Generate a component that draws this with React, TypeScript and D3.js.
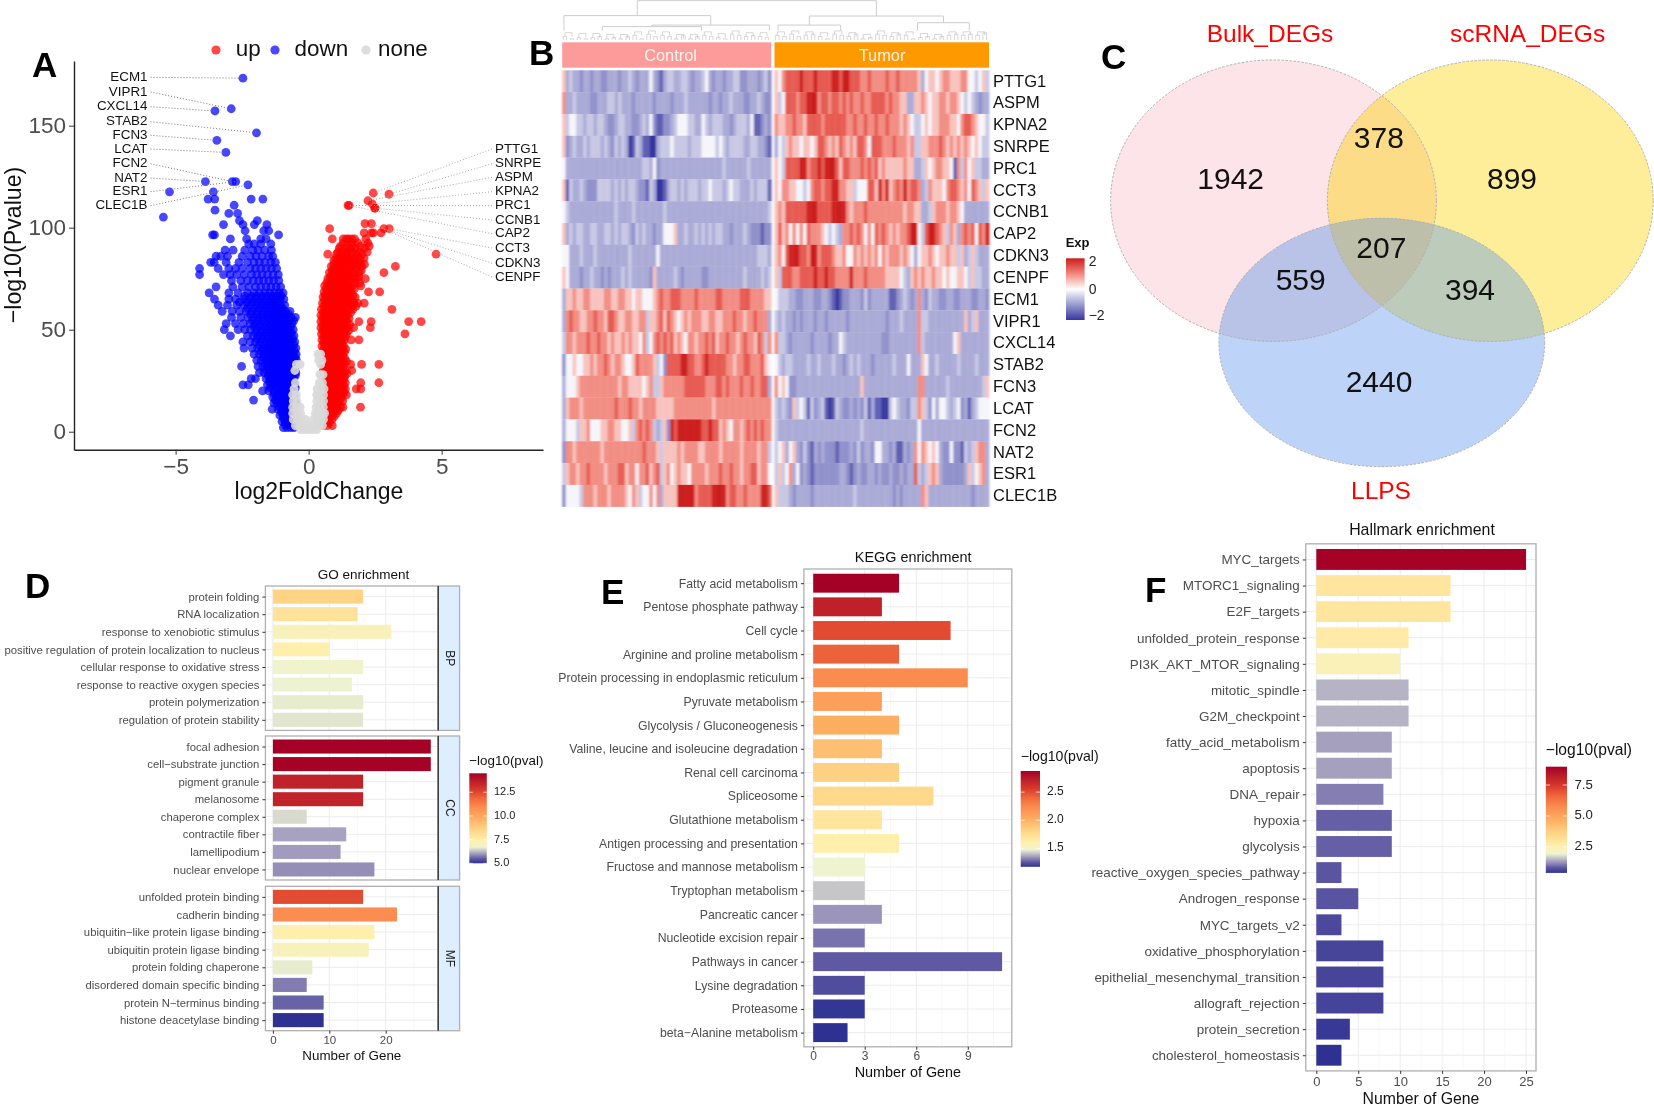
import { useEffect, useRef } from "react";
import * as d3 from "d3";

const FONT = "'Liberation Sans', Arial, sans-serif";

// ---- panel A: volcano, rows are [pvalue level, ...log2FC values]
const downRows = [
  [2, -0.95, -0.82, -0.68, -0.55],
  [3.5, -0.88, -0.74, -0.6],
  [5, -1.0, -0.88, -0.74, -0.6, -0.48],
  [6.5, -0.95, -0.8, -0.66, -0.53],
  [8, -1.08, -0.95, -0.8, -0.66, -0.52],
  [9.5, -1.02, -0.88, -0.74, -0.6],
  [11, -1.37, -1.15, -1.02, -0.86, -0.72, -0.58],
  [12.5, -1.1, -0.95, -0.8, -0.66, -0.53],
  [14, -1.3, -1.18, -1.05, -0.92, -0.78, -0.62, -0.5],
  [15.5, -2.07, -1.25, -1.12, -0.98, -0.84, -0.7, -0.56],
  [17, -1.35, -1.22, -1.1, -0.96, -0.82, -0.68, -0.54],
  [18.5, -1.3, -1.16, -1.03, -0.89, -0.75, -0.6],
  [20, -1.73, -1.5, -1.3, -1.14, -1.0, -0.86, -0.72, -0.58],
  [21.5, -1.45, -1.22, -1.07, -0.93, -0.79, -0.65, -0.5],
  [23, -2.47, -2.27, -1.55, -1.4, -1.26, -1.1, -0.96, -0.82, -0.66, -0.52],
  [24.5, -1.48, -1.33, -1.18, -1.03, -0.89, -0.74, -0.59],
  [26, -2.16, -2.0, -1.6, -1.44, -1.3, -1.16, -1.02, -0.88, -0.72, -0.56],
  [27.5, -1.52, -1.37, -1.23, -1.09, -0.95, -0.8, -0.64, -0.5],
  [29, -1.85, -1.68, -1.5, -1.36, -1.2, -1.06, -0.92, -0.76, -0.6, -0.48],
  [30.5, -1.6, -1.43, -1.28, -1.13, -0.99, -0.84, -0.68, -0.54],
  [32, -2.52, -1.9, -1.72, -1.55, -1.4, -1.26, -1.12, -0.96, -0.82, -0.66, -0.5],
  [33.5, -1.64, -1.47, -1.33, -1.19, -1.04, -0.89, -0.74, -0.58],
  [35, -1.95, -1.78, -1.6, -1.46, -1.3, -1.16, -1.0, -0.86, -0.72, -0.56, -0.46],
  [36.5, -1.7, -1.53, -1.38, -1.23, -1.08, -0.93, -0.79, -0.64, -0.5],
  [38, -2.05, -1.85, -1.68, -1.5, -1.36, -1.2, -1.06, -0.9, -0.76, -0.6, -0.47],
  [39.5, -1.78, -1.6, -1.43, -1.28, -1.13, -0.98, -0.83, -0.68, -0.54],
  [41, -2.43, -2.12, -1.92, -1.72, -1.56, -1.4, -1.25, -1.1, -0.95, -0.8, -0.64, -0.48],
  [42.5, -1.86, -1.66, -1.48, -1.33, -1.18, -1.03, -0.88, -0.72, -0.56],
  [44, -2.47, -2.2, -2.0, -1.8, -1.62, -1.46, -1.3, -1.15, -1.0, -0.85, -0.68, -0.52],
  [45.5, -1.94, -1.74, -1.56, -1.38, -1.22, -1.07, -0.92, -0.76, -0.6],
  [47, -2.94, -2.3, -2.08, -1.88, -1.7, -1.52, -1.36, -1.2, -1.04, -0.88, -0.72, -0.55],
  [48.5, -2.0, -1.8, -1.62, -1.45, -1.28, -1.12, -0.96, -0.8, -0.64],
  [50, -3.17, -2.65, -2.4, -2.18, -1.95, -1.76, -1.58, -1.4, -1.24, -1.08, -0.92, -0.76, -0.58],
  [51.5, -2.05, -1.86, -1.67, -1.49, -1.32, -1.16, -1.0, -0.84, -0.68],
  [53, -3.1, -2.75, -2.45, -2.2, -2.0, -1.82, -1.64, -1.46, -1.3, -1.12, -0.96, -0.8, -0.62],
  [54.5, -2.12, -1.92, -1.72, -1.55, -1.38, -1.22, -1.05, -0.88, -0.72, -0.56],
  [56, -2.9, -2.55, -2.28, -2.06, -1.86, -1.68, -1.5, -1.33, -1.16, -1.0, -0.84, -0.66, -0.5],
  [57.5, -2.18, -1.95, -1.76, -1.58, -1.42, -1.25, -1.08, -0.92, -0.76],
  [59, -3.25, -2.87, -2.6, -2.35, -2.12, -1.92, -1.72, -1.54, -1.36, -1.2, -1.03, -0.87, -0.7],
  [60.5, -2.3, -2.05, -1.84, -1.66, -1.48, -1.3, -1.14, -0.98],
  [62, -3.4, -3.05, -2.7, -2.42, -2.18, -1.96, -1.76, -1.58, -1.4, -1.22, -1.06, -0.9],
  [63.5, -2.6, -2.32, -2.1, -1.9, -1.7, -1.5, -1.34, -1.16],
  [65, -3.54, -3.0, -2.75, -2.45, -2.2, -2.0, -1.8, -1.6, -1.42, -1.25, -1.08, -0.93],
  [66.5, -2.4, -2.15, -1.95, -1.75, -1.56, -1.38, -1.2, -1.03],
  [68, -3.74, -3.0, -2.65, -2.3, -2.05, -1.85, -1.65, -1.46, -1.28, -1.1, -0.96],
  [71, -3.48, -2.85, -2.5, -2.25, -2.0, -1.8, -1.6, -1.42, -1.22, -1.05],
  [74, -2.9, -2.55, -2.3, -2.08, -1.88, -1.7, -1.5, -1.32, -1.12],
  [77, -4.1, -3.2, -2.95, -2.7, -2.42, -2.15, -1.95, -1.75, -1.55, -1.34, -1.14],
  [80, -4.1, -3.4, -3.0, -2.75, -2.5, -2.2, -2.0, -1.8, -1.6, -1.4, -1.2],
  [83, -3.68, -3.55, -3.1, -2.62, -2.3, -2.05, -1.85, -1.65, -1.42, -1.25],
  [86, -3.48, -3.3, -3.05, -2.5, -2.2, -1.98, -1.75, -1.5, -1.35],
  [89, -3.14, -2.84, -2.4, -2.1, -1.9, -1.65, -1.4],
  [92, -2.25, -2.05, -1.8, -1.42],
  [94.5, -2.94, -2.33, -1.8, -1.6],
  [96.5, -3.61, -3.54, -1.13],
  [98.5, -2.39, -1.69, -1.5],
  [101.5, -3.2, -2.47, -2.04, -1.57],
  [103.5, -2.6, -1.93],
  [105.2, -5.46],
  [107, -3.0, -2.67],
  [108.6, -3.52],
  [111, -2.8],
  [114, -3.53, -3.78, -2.16, -1.72],
  [117.6, -5.23, -3.58],
  [121, -2.28],
  [122.6, -3.88, -2.87, -2.74],
  [136.9, -3.11],
  [142.8, -3.45],
  [146.5, -1.96],
  [157.2, -3.52],
  [158.3, -2.91],
  [173.3, -2.47],
];

const upRows = [
  [3, 0.55, 0.7, 0.89],
  [4.5, 0.62, 0.78],
  [6, 0.58, 0.72, 0.88],
  [7.5, 0.64, 0.8, 0.96],
  [9, 0.6, 0.74, 0.9, 1.05],
  [10.5, 0.65, 0.8, 0.96, 1.12],
  [12, 0.58, 0.72, 0.88, 1.02, 1.2, 1.29, 1.95],
  [13.5, 0.65, 0.79, 0.94, 1.08],
  [15, 0.58, 0.72, 0.86, 1.0, 1.15, 1.28],
  [16.5, 0.65, 0.79, 0.93, 1.07, 1.22],
  [18, 0.58, 0.72, 0.85, 1.0, 1.14, 1.28, 1.42],
  [19.5, 0.65, 0.78, 0.92, 1.06, 1.2, 1.34],
  [21, 0.56, 0.7, 0.84, 0.98, 1.12, 1.26, 1.38, 1.79, 1.96],
  [22.5, 0.63, 0.77, 0.91, 1.05, 1.19, 1.32],
  [24, 0.56, 0.7, 0.84, 0.98, 1.12, 1.25, 1.38, 1.96, 2.64],
  [25.5, 0.62, 0.76, 0.9, 1.04, 1.18, 1.32],
  [27, 0.55, 0.68, 0.82, 0.96, 1.1, 1.24, 1.36],
  [28.5, 0.62, 0.75, 0.89, 1.03, 1.17, 1.3, 1.44],
  [30, 0.55, 0.68, 0.82, 0.96, 1.1, 1.24, 1.38, 1.62],
  [31.5, 0.61, 0.75, 0.89, 1.03, 1.17, 1.3],
  [33, 0.54, 0.68, 0.82, 0.96, 1.1, 1.22, 1.34, 1.58, 1.99, 2.64],
  [34.5, 0.6, 0.73, 0.87, 1.01, 1.15, 1.28, 1.42],
  [36, 0.54, 0.66, 0.8, 0.94, 1.08, 1.22, 1.36],
  [37.5, 0.6, 0.73, 0.87, 1.0, 1.14, 1.28],
  [39, 0.53, 0.66, 0.8, 0.94, 1.08, 1.22, 1.34],
  [40.5, 0.57, 0.7, 0.86, 0.99, 1.13, 1.27, 1.4],
  [42, 0.5, 0.64, 0.78, 0.92, 1.06, 1.2, 1.32],
  [43.5, 0.56, 0.7, 0.85, 0.98, 1.12, 1.26],
  [45, 0.5, 0.64, 0.78, 0.92, 1.06, 1.2, 1.34, 1.6, 1.89],
  [46.5, 0.55, 0.69, 0.84, 0.97, 1.11, 1.25, 1.38],
  [48, 0.48, 0.62, 0.76, 0.9, 1.04, 1.18, 1.3, 1.42, 3.62],
  [49.5, 0.53, 0.67, 0.81, 0.95, 1.09, 1.24, 1.37, 1.5],
  [51, 0.46, 0.6, 0.74, 0.88, 1.02, 1.16, 1.3, 1.45, 1.69, 2.32],
  [52.5, 0.53, 0.67, 0.81, 0.95, 1.09, 1.23, 1.37, 1.55],
  [54, 0.46, 0.6, 0.74, 0.88, 1.02, 1.16, 1.3, 1.44, 1.89, 2.35, 3.76, 4.23],
  [55.5, 0.53, 0.67, 0.81, 0.95, 1.09, 1.24, 1.38, 1.52],
  [57, 0.46, 0.6, 0.74, 0.88, 1.02, 1.18, 1.32, 1.46],
  [58.5, 0.55, 0.69, 0.83, 0.97, 1.11, 1.25, 1.4, 1.58],
  [60, 0.48, 0.62, 0.76, 0.9, 1.04, 1.18, 1.32, 1.48, 1.66, 3.13],
  [61.5, 0.57, 0.7, 0.85, 0.99, 1.14, 1.28, 1.44, 1.6, 1.78],
  [63, 0.52, 0.66, 0.8, 0.94, 1.08, 1.22, 1.38, 1.52, 1.7, 1.85, 2.09],
  [64.5, 0.6, 0.74, 0.88, 1.02, 1.16, 1.32, 1.46, 1.64],
  [66, 0.54, 0.68, 0.82, 0.96, 1.1, 1.24, 1.4, 1.55, 1.75],
  [67, 0.62, 0.76, 0.9, 1.04, 1.18, 1.32, 1.48, 1.66],
  [68.5, 0.58, 0.72, 0.86, 1.0, 1.14, 1.28, 1.44, 1.6, 2.25, 2.67],
  [70, 0.66, 0.8, 0.95, 1.1, 1.24, 1.38, 1.54, 1.72],
  [71.5, 0.6, 0.74, 0.9, 1.04, 1.18, 1.32, 1.48, 1.65, 1.96],
  [73, 0.68, 0.82, 0.96, 1.1, 1.26, 1.4, 1.56, 1.74, 1.92],
  [75, 0.72, 0.86, 1.0, 1.14, 1.28, 1.44, 1.6, 1.8, 2.13],
  [76, 0.82, 0.96, 1.1, 1.24, 1.38, 1.54, 1.72, 1.88],
  [78, 0.78, 0.92, 1.06, 1.2, 1.34, 1.5, 1.66, 1.9, 2.83],
  [79, 0.88, 1.0, 1.14, 1.28, 1.42, 1.58, 1.76, 1.98],
  [81, 0.85, 1.0, 1.14, 1.3, 1.46, 1.62, 1.8, 2.0, 3.26],
  [82, 0.94, 1.08, 1.22, 1.38, 1.54, 1.7, 1.9, 2.1],
  [84, 0.95, 1.1, 1.26, 1.42, 1.58, 1.76, 1.95],
  [85, 1.02, 1.18, 1.34, 1.5, 1.68, 1.86, 2.08],
  [87, 0.72, 1.05, 1.22, 1.4, 1.58, 1.8, 2.0, 4.79],
  [88, 1.1, 1.28, 1.46, 1.66, 1.9, 2.2],
  [90, 1.15, 1.35, 1.55, 1.75, 2.1],
  [91, 1.2, 1.45, 1.65, 1.95, 2.28],
  [92.5, 1.3, 1.6, 1.85, 2.23],
  [94.5, 0.89, 1.3, 1.42, 1.5, 1.62, 1.73, 2.15],
  [97.5, 2.09, 2.36, 2.43, 2.72],
  [99.5, 0.79, 2.83, 3.03],
  [102, 2.12, 2.36],
  [109.6, 2.5, 2.48],
  [110.9, 1.52, 1.48],
  [111.7, 2.39],
  [113.2, 2.23],
  [116.4, 3.02],
  [117, 2.43],
];

const noneRows = [
  [1, -0.3, -0.15, 0, 0.15, 0.3],
  [3, -0.5, -0.35, -0.2, -0.05, 0.1, 0.25, 0.4, 0.52],
  [6, -0.58, -0.42, -0.28, -0.12, 0.18, 0.32, 0.46, 0.56],
  [9, -0.6, -0.45, -0.3, 0.25, 0.38, 0.52, 0.6],
  [12, -0.6, -0.46, -0.32, 0.28, 0.42, 0.55],
  [15, -0.58, -0.44, 0.3, 0.44, 0.56],
  [18, -0.6, -0.46, 0.3, 0.42, 0.56],
  [21, -0.55, 0.32, 0.46, 0.58],
  [24, -0.5, 0.4, 0.52],
  [28, 0.42, 0.54],
  [30, -0.52],
  [33, -0.46, -0.32, 0.45],
  [35, 0.38, 0.5],
  [38, 0.35, 0.45],
];

const legendKeys = ["up", "down", "none"];
const legendColors = ["#ff0000", "#0000ff", "#d9d9d9"];

const leftGenes = ["ECM1", "VIPR1", "CXCL14", "STAB2", "FCN3", "LCAT", "FCN2", "NAT2", "ESR1", "CLEC1B"];
const leftGeneX = [-2.47, -2.91, -3.52, -1.96, -3.45, -3.11, -2.87, -3.88, -2.74, -2.28];
const leftGeneY = [173.3, 158.3, 157.2, 146.5, 142.8, 136.9, 122.6, 122.6, 122.6, 121];
const leftGeneLabelY = [77.3, 92, 106.7, 121.7, 135.3, 149, 163.7, 178, 191.7, 205.7];

const rightGenes = ["PTTG1", "SNRPE", "ASPM", "KPNA2", "PRC1", "CCNB1", "CAP2", "CCT3", "CDKN3", "CENPF"];
const rightGeneX = [2.43, 3.02, 2.23, 2.39, 1.52, 2.5, 1.48, 3.03, 2.83, 2.36];
const rightGeneY = [117, 116.4, 113.2, 111.7, 110.9, 109.6, 110.9, 99.5, 99.5, 102];
const rightGeneLabelY = [149, 163.7, 177.3, 191.7, 205.7, 220, 233.7, 248, 263.3, 277];

// ---- panel B: expression, one character per sample, index into heatLevels
const heatLevels = [-2, -1.6, -1.1, -0.85, -0.55, -0.1, 0.5, 0.95, 1.4, 2];
const heatGenes = ["PTTG1", "ASPM", "KPNA2", "SNRPE", "PRC1", "CCT3", "CCNB1", "CAP2", "CDKN3", "CENPF", "ECM1", "VIPR1", "CXCL14", "STAB2", "FCN3", "LCAT", "FCN2", "NAT2", "ESR1", "CLEC1B"];
const heatControl = [
  "634332332332233323343233353213443344323345323323344223332342",
  "733433332233344343332333332333323334333333233233433322334322",
  "645544344344322344332234352112234555443354344433234443511232",
  "623433434443432434301431100344454444344455554543444433443321",
  "533333333333333333333334435233333333333333333343333334333333",
  "614334322244443434344322143001344343444344544434544333434441",
  "543333333333333433334333333334333333333333333333333333333334",
  "634344334433443434432434332335556334334343434433233343222122",
  "553334333433333333343333333533333333333333333333333333334443",
  "653332334332323334343333326333334323333322333333333343333434",
  "366766776666776677665665556787788877778777778877777888777766",
  "378776677877688766776677466786876567677766776677787767787773",
  "477677787787767667676657457878786765776778786778776787768747",
  "255655667677876776556877776452888899887789888887767788777865",
  "355567777777777767766665674467777778888887778878777877877883",
  "367776777777777877787767777666667777777777767777777777777777",
  "355546675556677665564787874346298999999988988676577678787877",
  "277677777776777777777778777646666767777667777677777677776774",
  "467767787777677788677577867846756766577776777877877677886775",
  "255554777677767777657645575736666999997888899997887787777998",
];
const heatTumor = [
  "657888898889888899899888778777787787777763566567766677554564",
  "645888788999788788787877877888878776633667656677677654543233",
  "766778776888878888887787787787787776765445656677766578876554",
  "354676656656887676876768875888777877767446677787676767656544",
  "654888899788989998688777878786766666766334656776651747564433",
  "657766554578878899776645558869796787978873476665788767587646",
  "676888888999888899997677787777777777677663346777677653333333",
  "686757575877765454377878757587876767789954899876476378785879",
  "675899988799788876675576767675767776765356676566766463464333",
  "648887788889889887777977787777766665436767667665655665464433",
  "544433223332233210122333242333331123432373243322332233322332",
  "434332323332332333332333333333323334333374433333333336346333",
  "744323333323333233543333333333223333333374333333335633333333",
  "543443333433433343323434333233333433353336533433333433334333",
  "756522333333333333333333633333333333333377333333433333333346",
  "434326454142341014322323241311004543324476425355434523134555",
  "433333333333333333333333433333333333333353333333333333333333",
  "456356324213232221222324233255332311323757656532252214346773",
  "464573523212222222332123223323223223233843467632222223645673",
  "644432333323333333333343333333333232333337633333333333323333",
];

const sampleGroups = ["Control", "Tumor"];

// dendrogram over the columns; h is merge height, cols is the span of a clump of samples
const dendroTree: any = {
  h: 1,
  children: [
    {
      h: 0.62,
      children: [
        { group: 0, cols: [0, 1] },
        {
          h: 0.38,
          children: [
            {
              h: 0.34,
              children: [
                { group: 0, cols: [1, 22] },
                { group: 0, cols: [22, 58] },
              ],
            },
            { group: 0, cols: [59, 60] },
          ],
        },
      ],
    },
    {
      h: 0.61,
      children: [
        {
          h: 0.38,
          children: [
            { group: 1, cols: [0, 2] },
            { group: 1, cols: [2, 35] },
          ],
        },
        {
          h: 0.44,
          children: [
            { group: 1, cols: [35, 45] },
            { group: 1, cols: [49, 60] },
          ],
        },
      ],
    },
  ],
};
const fringeControl = "321423142534132415324213523142351342153241352413524132413521";
const fringeTumor = "423152314252341352413253142351423152431625341231425341524362";

// ---- panel C: venn
const vennNames = ["Bulk_DEGs", "scRNA_DEGs", "LLPS"];
const vennCounts = [1942, 378, 899, 207, 559, 394, 2440];

// ---- panels D, E, F: enrichment bars
const goBpTerms = ["protein folding", "RNA localization", "response to xenobiotic stimulus", "positive regulation of protein localization to nucleus", "cellular response to oxidative stress", "response to reactive oxygen species", "protein polymerization", "regulation of protein stability"];
const goBpCounts = [16, 15, 21, 10, 16, 14, 16, 16];
const goBpPval = [8.6, 7.95, 7.1, 7.4, 6.8, 6.7, 6.65, 6.6];
const goCcTerms = ["focal adhesion", "cell−substrate junction", "pigment granule", "melanosome", "chaperone complex", "contractile fiber", "lamellipodium", "nuclear envelope"];
const goCcCounts = [28, 28, 16, 16, 6, 13, 12, 18];
const goCcPval = [14.5, 14.45, 13.55, 13.5, 6.5, 6.05, 6.0, 5.9];
const goMfTerms = ["unfolded protein binding", "cadherin binding", "ubiquitin−like protein ligase binding", "ubiquitin protein ligase binding", "protein folding chaperone", "disordered domain specific binding", "protein N−terminus binding", "histone deacetylase binding"];
const goMfCounts = [16, 22, 18, 17, 7, 6, 9, 9];
const goMfPval = [12.4, 10.9, 7.4, 7.1, 6.65, 5.75, 5.55, 5.0];

const keggTerms = ["Fatty acid metabolism", "Pentose phosphate pathway", "Cell cycle", "Arginine and proline metabolism", "Protein processing in endoplasmic reticulum", "Pyruvate metabolism", "Glycolysis / Gluconeogenesis", "Valine, leucine and isoleucine degradation", "Renal cell carcinoma", "Spliceosome", "Glutathione metabolism", "Antigen processing and presentation", "Fructose and mannose metabolism", "Tryptophan metabolism", "Pancreatic cancer", "Nucleotide excision repair", "Pathways in cancer", "Lysine degradation", "Proteasome", "beta−Alanine metabolism"];
const keggCounts = [5, 4, 8, 5, 9, 4, 5, 4, 5, 7, 4, 5, 3, 3, 4, 3, 11, 3, 3, 2];
const keggPval = [2.87, 2.705, 2.5, 2.42, 2.23, 2.11, 2.02, 1.92, 1.835, 1.78, 1.68, 1.6, 1.48, 1.41, 1.34, 1.29, 1.255, 1.23, 1.18, 1.17];

const hallTerms = ["MYC_targets", "MTORC1_signaling", "E2F_targets", "unfolded_protein_response", "PI3K_AKT_MTOR_signaling", "mitotic_spindle", "G2M_checkpoint", "fatty_acid_metabolism", "apoptosis", "DNA_repair", "hypoxia", "glycolysis", "reactive_oxygen_species_pathway", "Androgen_response", "MYC_targets_v2", "oxidative_phosphorylation", "epithelial_mesenchymal_transition", "allograft_rejection", "protein_secretion", "cholesterol_homeostasis"];
const hallCounts = [25, 16, 16, 11, 10, 11, 11, 9, 9, 8, 9, 9, 3, 5, 3, 8, 8, 8, 4, 3];
const hallPval = [8.98, 2.97, 2.97, 2.72, 2.37, 1.47, 1.47, 1.34, 1.34, 1.09, 0.87, 0.87, 0.79, 0.78, 0.66, 0.61, 0.61, 0.6, 0.49, 0.4];

const rampStops = [0, 0.05, 0.1, 0.14, 0.18, 0.25, 0.38, 0.5, 0.62, 0.72, 0.82, 0.92, 1];
const rampColors = ["#2e3192", "#5f59a3", "#9b95bb", "#c5c5c9", "#eef3d0", "#fff0ae", "#fed384", "#fdae61", "#fb8d50", "#f0693c", "#d9382c", "#b81c28", "#a50026"];
const ramp = d3.scaleLinear<string>().domain(rampStops).range(rampColors);

const panelLetters = ["A", "B", "C", "D", "E", "F"];
const panelLetterX = [32, 529, 1101, 25, 601, 1145];
const panelLetterY = [76.5, 65, 69, 598, 603.5, 601.5];

const gridX = (svg: any, x: any, ticks: number[], minor: number[], top: number, bottom: number) => {
  svg.append("g").selectAll("line").data(minor).join("line")
    .attr("x1", (d: number) => x(d)).attr("x2", (d: number) => x(d))
    .attr("y1", top).attr("y2", bottom).attr("stroke", "#f3f3f3").attr("stroke-width", 0.7);
  svg.append("g").selectAll("line").data(ticks).join("line")
    .attr("x1", (d: number) => x(d)).attr("x2", (d: number) => x(d))
    .attr("y1", top).attr("y2", bottom).attr("stroke", "#ececec").attr("stroke-width", 1);
};

const drawBars = (svg: any, c: any) => {
  const y = d3.scalePoint().domain(c.terms).range([c.top, c.bottom]).padding(0.6);
  const bh = y.step() * 0.8;
  const color = d3.scaleLinear().domain(c.domain).range([0, 1]);
  gridX(svg, c.x, c.ticks, c.minor, c.top, c.bottom);
  svg.append("g").selectAll("line").data(c.terms).join("line")
    .attr("x1", c.left).attr("x2", c.right)
    .attr("y1", (d: string) => y(d)).attr("y2", (d: string) => y(d))
    .attr("stroke", "#ececec");
  svg.append("g").selectAll("rect").data(c.terms).join("rect")
    .attr("x", c.x(0))
    .attr("y", (d: string) => (y(d) as number) - bh / 2)
    .attr("width", (_: string, i: number) => c.x(c.counts[i]) - c.x(0))
    .attr("height", bh)
    .attr("fill", (_: string, i: number) => ramp(color(c.pval[i])));
  svg.append("rect").attr("x", c.left).attr("y", c.top)
    .attr("width", c.right - c.left).attr("height", c.bottom - c.top)
    .attr("fill", "none").attr("stroke", "#b0b0b0").attr("stroke-width", 1.3);
  const ax = svg.append("g").attr("transform", `translate(${c.left},0)`)
    .call(d3.axisLeft(y as any).tickSize(3).tickPadding(c.pad ?? 3));
  ax.select(".domain").remove();
  ax.selectAll("line").attr("stroke", "#333");
  ax.selectAll("text").attr("font-family", FONT).attr("font-size", c.labelSize).attr("fill", "#4d4d4d");
};

const drawXAxis = (svg: any, c: any) => {
  const ax = svg.append("g").attr("transform", `translate(0,${c.bottom})`)
    .call(d3.axisBottom(c.x).tickValues(c.ticks).tickSize(3).tickPadding(c.pad ?? 2).tickFormat(d3.format("d")));
  ax.select(".domain").remove();
  ax.selectAll("line").attr("stroke", "#333");
  ax.selectAll("text").attr("font-family", FONT).attr("font-size", c.tickSize).attr("fill", "#4d4d4d");
  svg.append("text").attr("x", c.xTitleX).attr("y", c.xTitleY).attr("text-anchor", "middle")
    .attr("dominant-baseline", "middle").attr("font-family", FONT).attr("font-size", c.xTitleSize).attr("fill", "#111")
    .text("Number of Gene");
  svg.append("text").attr("x", c.titleX).attr("y", c.titleY).attr("text-anchor", "middle")
    .attr("dominant-baseline", "middle").attr("font-family", FONT).attr("font-size", c.titleSize).attr("fill", "#111")
    .text(c.title);
};

const drawRampLegend = (svg: any, c: any) => {
  const id = `ramp-${c.id}`;
  const grad = svg.append("defs").append("linearGradient").attr("id", id)
    .attr("x1", 0).attr("x2", 0).attr("y1", 1).attr("y2", 0);
  rampStops.forEach((s, i) => grad.append("stop").attr("offset", s).attr("stop-color", rampColors[i]));
  svg.append("rect").attr("x", c.x).attr("y", c.y).attr("width", c.w).attr("height", c.h).attr("fill", `url(#${id})`);
  const scale = d3.scaleLinear().domain(c.domain).range([c.y + c.h, c.y]);
  svg.append("g").selectAll("line").data(c.ticks).join("line")
    .attr("x1", c.x).attr("x2", c.x + c.w * 0.2)
    .attr("y1", (d: number) => scale(d)).attr("y2", (d: number) => scale(d))
    .attr("stroke", "#fff").attr("stroke-opacity", 0.7);
  svg.append("g").selectAll("line").data(c.ticks).join("line")
    .attr("x1", c.x + c.w * 0.8).attr("x2", c.x + c.w)
    .attr("y1", (d: number) => scale(d)).attr("y2", (d: number) => scale(d))
    .attr("stroke", "#fff").attr("stroke-opacity", 0.7);
  svg.append("g").selectAll("text").data(c.ticks).join("text")
    .attr("x", c.labelX).attr("y", (d: number) => scale(d))
    .attr("dominant-baseline", "middle").attr("font-family", FONT).attr("font-size", c.tickSize).attr("fill", "#222")
    .text((d: number) => d3.format(".1f")(d));
  svg.append("text").attr("x", c.x).attr("y", c.titleY).attr("dominant-baseline", "middle")
    .attr("font-family", FONT).attr("font-size", c.titleSize).attr("fill", "#111").text("−log10(pval)");
};

const drawVolcano = (svg: any) => {
  const x = d3.scaleLinear().domain([-8.82, 8.81]).range([74, 543]);
  const y = d3.scaleLinear().domain([-8.82, 181.7]).range([449.7, 61]);
  const layers = [downRows, upRows, noneRows];
  const colors = [legendColors[1], legendColors[0], legendColors[2]];
  layers.forEach((rows, k) => {
    const pts = rows.flatMap((r) => r.slice(1).map((v) => [v, r[0]]));
    svg.append("g").selectAll("circle").data(pts).join("circle")
      .attr("cx", (d: number[]) => x(d[0])).attr("cy", (d: number[]) => y(d[1])).attr("r", 4.4)
      .attr("fill", colors[k]).attr("fill-opacity", k === 2 ? 0.9 : 0.72);
  });
  // repel labels with dotted leaders
  const leader = (names: string[], gx: number[], gy: number[], ly: number[], lx: number, anchor: string, stroke: string) => {
    const g = svg.append("g");
    g.selectAll("line").data(names).join("line")
      .attr("x1", lx + (anchor === "end" ? 3 : -3)).attr("y1", (_: string, i: number) => ly[i])
      .attr("x2", (_: string, i: number) => x(gx[i])).attr("y2", (_: string, i: number) => y(gy[i]))
      .attr("stroke", stroke).attr("stroke-width", 1).attr("stroke-dasharray", "1 2");
    g.selectAll("text").data(names).join("text")
      .attr("x", lx).attr("y", (_: string, i: number) => ly[i]).attr("text-anchor", anchor)
      .attr("dominant-baseline", "middle").attr("font-family", FONT).attr("font-size", 13.4).attr("fill", "#111")
      .text((d: string) => d);
  };
  leader(leftGenes, leftGeneX, leftGeneY, leftGeneLabelY, 147.5, "end", "#777");
  leader(rightGenes, rightGeneX, rightGeneY, rightGeneLabelY, 495, "start", "#aaa");

  const xa = svg.append("g").attr("transform", "translate(0,449.7)")
    .call(d3.axisBottom(x).tickValues([-5, 0, 5]).tickSizeInner(5).tickSizeOuter(0).tickPadding(3));
  xa.select(".domain").attr("stroke", "#222").attr("stroke-width", 1.4);
  const ya = svg.append("g").attr("transform", "translate(74,0)")
    .call(d3.axisLeft(y).tickValues([0, 50, 100, 150]).tickSizeInner(5).tickSizeOuter(0).tickPadding(3));
  ya.select(".domain").attr("stroke", "#222").attr("stroke-width", 1.4);
  [xa, ya].forEach((a) => {
    a.selectAll("line").attr("stroke", "#333");
    a.selectAll("text").attr("font-family", FONT).attr("font-size", 22.5).attr("fill", "#4d4d4d");
  });
  svg.append("text").attr("x", 319).attr("y", 492.8).attr("text-anchor", "middle").attr("dominant-baseline", "middle")
    .attr("font-family", FONT).attr("font-size", 23).attr("fill", "#111").text("log2FoldChange");
  svg.append("text").attr("transform", "translate(15,245) rotate(-90)").attr("text-anchor", "middle")
    .attr("dominant-baseline", "middle").attr("font-family", FONT).attr("font-size", 23.2).attr("fill", "#111")
    .text("−log10(Pvalue)");

  const keyDot = [216, 275, 366];
  const keyText = [235.7, 294.6, 378];
  legendKeys.forEach((k, i) => {
    svg.append("circle").attr("cx", keyDot[i]).attr("cy", 50).attr("r", 4.6)
      .attr("fill", legendColors[i]).attr("fill-opacity", i === 2 ? 0.9 : 0.72);
    svg.append("text").attr("x", keyText[i]).attr("y", 50.5).attr("dominant-baseline", "middle")
      .attr("font-family", FONT).attr("font-size", 22.4).attr("fill", "#111").text(k);
  });
};

const drawHeatmap = (svg: any) => {
  const groupRange = [[562.2, 771.2], [774.5, 989]];
  const heatColor = d3.scaleLinear<string>().domain([-2, 0, 1.2, 2]).range(["#3636a0", "#ffffff", "#ef6f62", "#cc1c1c"]);
  const yRow = d3.scaleBand().domain(heatGenes).range([70.3, 506.7]);
  const soft = svg.append("defs").append("filter").attr("id", "heat-soft")
    .attr("x", "-2%").attr("width", "104%").attr("y", "-1%").attr("height", "102%");
  soft.append("feGaussianBlur").attr("stdDeviation", "0.9 0.2");
  [heatControl, heatTumor].forEach((rows, g) => {
    const heatG = svg.append("g").attr("filter", "url(#heat-soft)");
    rows.forEach((row, r) => {
      const cells = row.split("").map(Number);
      const xCol = d3.scaleBand<number>().domain(d3.range(cells.length)).range(groupRange[g] as [number, number]);
      heatG.append("g").selectAll("rect").data(cells).join("rect")
        .attr("x", (_: number, i: number) => xCol(i))
        .attr("y", yRow(heatGenes[r]))
        .attr("width", xCol.bandwidth() + 0.3)
        .attr("height", yRow.bandwidth() + 0.2)
        .attr("fill", (d: number) => heatColor(heatLevels[d]));
    });
    svg.append("rect").attr("x", groupRange[g][0]).attr("y", 42.3)
      .attr("width", groupRange[g][1] - groupRange[g][0]).attr("height", 25.4)
      .attr("fill", g === 0 ? "#fd9a9a" : "#ff9900");
    svg.append("text").attr("x", g === 0 ? 670.6 : 882).attr("y", 57).attr("text-anchor", "middle")
      .attr("dominant-baseline", "middle").attr("font-family", FONT).attr("font-size", 16.4).attr("fill", "#f7f3ee")
      .text(sampleGroups[g]);
  });
  svg.append("g").selectAll("text").data(heatGenes).join("text")
    .attr("x", 993).attr("y", (d: string) => (yRow(d) as number) + yRow.bandwidth() / 2 + 1)
    .attr("dominant-baseline", "middle").attr("font-family", FONT).attr("font-size", 16.5).attr("fill", "#111")
    .text((d: string) => d);

  // dendrogram
  const yDen = d3.scaleLinear().domain([0, 1]).range([40, 0.7]);
  const colX = (group: number, c: number) => {
    const [a, b] = groupRange[group];
    return a + ((b - a) * c) / 60;
  };
  const root = d3.hierarchy(dendroTree);
  root.eachAfter((n: any) => {
    n.px = n.children ? d3.mean(n.children, (k: any) => k.px) : colX(n.data.group, (n.data.cols[0] + n.data.cols[1]) / 2);
  });
  const den = svg.append("g").attr("fill", "none").attr("stroke", "#cccccc").attr("stroke-width", 1);
  root.each((n: any) => {
    if (!n.children) return;
    const h = yDen(n.data.h);
    const [a, b] = n.children;
    const down = (k: any) => yDen(k.data.h ?? 0.24);
    den.append("path").attr("d", `M${a.px},${down(a)}V${h}H${b.px}V${down(b)}`);
  });
  [fringeControl, fringeTumor].forEach((s, g) => {
    const f = svg.append("g").attr("fill", "none").attr("stroke", "#bcbcbc").attr("stroke-width", 0.6);
    const hs = s.split("").map(Number);
    hs.forEach((d, i) => {
      if (i % 2 === 0 && i < hs.length - 1) {
        const h = yDen(d * 0.03);
        f.append("path").attr("d", `M${colX(g, i + 0.3)},40V${h}H${colX(g, i + 1.3)}V40`);
      }
      if (i % 4 === 0 && i < hs.length - 3) {
        const h = yDen(0.12 + d * 0.022);
        f.append("path").attr("d", `M${colX(g, i + 0.8)},${yDen(d * 0.03)}V${h}H${colX(g, i + 2.8)}V${yDen(d * 0.03)}`);
      }
    });
  });

  // Exp legend
  const grad = svg.append("defs").append("linearGradient").attr("id", "exp-grad")
    .attr("x1", 0).attr("x2", 0).attr("y1", 1).attr("y2", 0);
  [-2, -1, 0, 1, 2].forEach((v) => grad.append("stop").attr("offset", (v + 2) / 4).attr("stop-color", heatColor(v)));
  svg.append("rect").attr("x", 1066).attr("y", 258.3).attr("width", 18.6).attr("height", 61.7).attr("fill", "url(#exp-grad)");
  const yExp = d3.scaleLinear().domain([-2, 0, 2]).range([316.7, 290, 262]);
  svg.append("g").selectAll("text").data([-2, 0, 2]).join("text")
    .attr("x", 1088.7).attr("y", (d: number) => yExp(d)).attr("dominant-baseline", "middle")
    .attr("font-family", FONT).attr("font-size", 14).attr("fill", "#222")
    .text((d: number) => d3.format("d")(d));
  svg.append("text").attr("x", 1065.7).attr("y", 244).attr("dominant-baseline", "middle")
    .attr("font-family", FONT).attr("font-size", 13).attr("font-weight", "bold").attr("fill", "#111").text("Exp");
};

const drawVenn = (svg: any) => {
  const circles = [
    { cx: 1273.5, cy: 200.7, rx: 162.9, ry: 140.7, fill: "#fde4e8" },
    { cx: 1490.3, cy: 200.7, rx: 162.9, ry: 140.7, fill: "#feee9a" },
    { cx: 1381.8, cy: 342.5, rx: 162.9, ry: 124.2, fill: "#bdd3f8" },
  ];
  const ell = (sel: any, c: any) => sel.append("ellipse").attr("cx", c.cx).attr("cy", c.cy).attr("rx", c.rx).attr("ry", c.ry);
  const defs = svg.append("defs");
  circles.forEach((c, i) => ell(defs.append("clipPath").attr("id", `venn-${i}`), c));
  circles.forEach((c) => ell(svg, c).attr("fill", c.fill));
  const a = svg.append("g").attr("clip-path", "url(#venn-0)");
  ell(a, circles[1]).attr("fill", "#fddc87");
  ell(a, circles[2]).attr("fill", "#b9c3e8");
  ell(svg.append("g").attr("clip-path", "url(#venn-1)"), circles[2]).attr("fill", "#bdcbba");
  const aa = svg.append("g").attr("clip-path", "url(#venn-0)").append("g").attr("clip-path", "url(#venn-1)");
  ell(aa, circles[2]).attr("fill", "#bebfab");
  circles.forEach((c) => ell(svg, c).attr("fill", "none").attr("stroke", "#b0b0b0").attr("stroke-width", 1).attr("stroke-dasharray", "2.5 1.5"));
  const countX = [1230.7, 1378.8, 1512, 1381.3, 1300.7, 1470, 1379];
  const countY = [181, 140.3, 181, 249.7, 282, 291.7, 384.3];
  vennCounts.forEach((n, i) => {
    svg.append("text").attr("x", countX[i]).attr("y", countY[i]).attr("text-anchor", "middle")
      .attr("dominant-baseline", "middle").attr("font-family", FONT).attr("font-size", 30).attr("fill", "#111").text(n);
  });
  const nameX = [1270, 1527.6, 1381];
  const nameY = [35.3, 35.3, 492.7];
  vennNames.forEach((n, i) => {
    svg.append("text").attr("x", nameX[i]).attr("y", nameY[i]).attr("text-anchor", "middle")
      .attr("dominant-baseline", "middle").attr("font-family", FONT).attr("font-size", 24.5).attr("fill", "#ff0000").text(n);
  });
};

const drawGo = (svg: any) => {
  const x = d3.scaleLinear().domain([0, 28]).range([272.9, 430.8]);
  const facets = [
    { name: "BP", terms: goBpTerms, counts: goBpCounts, pval: goBpPval, top: 586, bottom: 730.4 },
    { name: "CC", terms: goCcTerms, counts: goCcCounts, pval: goCcPval, top: 736, bottom: 880 },
    { name: "MF", terms: goMfTerms, counts: goMfCounts, pval: goMfPval, top: 886.3, bottom: 1030.7 },
  ];
  facets.forEach((f) => {
    drawBars(svg, { ...f, x, left: 265.4, right: 438.2, domain: [5, 14.5], ticks: [0, 10, 20], minor: [5, 15, 25], labelSize: 11.3 });
    svg.append("rect").attr("x", 438.2).attr("y", f.top).attr("width", 21.4).attr("height", f.bottom - f.top)
      .attr("fill", "#ddeeff").attr("stroke", "#b0b0b0").attr("stroke-width", 1.3);
    svg.append("line").attr("x1", 438.2).attr("x2", 438.2).attr("y1", f.top).attr("y2", f.bottom)
      .attr("stroke", "#222").attr("stroke-width", 1.2);
    svg.append("text").attr("transform", `translate(449,${(f.top + f.bottom) / 2}) rotate(90)`).attr("text-anchor", "middle")
      .attr("dominant-baseline", "middle").attr("font-family", FONT).attr("font-size", 12).attr("fill", "#1a1a1a").text(f.name);
  });
  drawXAxis(svg, { x, ticks: [0, 10, 20], bottom: 1030.7, tickSize: 11.5, xTitleX: 351.8, xTitleY: 1056.7, xTitleSize: 13.4, titleX: 363.6, titleY: 575, titleSize: 13.5, title: "GO enrichment" });
  drawRampLegend(svg, { id: "go", x: 469.3, y: 773.3, w: 17.5, h: 90, domain: [5, 14.5], ticks: [5, 7.5, 10, 12.5], labelX: 494, tickSize: 11, titleY: 761.3, titleSize: 13.4 });
};

const drawKegg = (svg: any) => {
  const x = d3.scaleLinear().domain([0, 11]).range([813.2, 1002.1]);
  const c = { terms: keggTerms, counts: keggCounts, pval: keggPval, x, left: 803.9, right: 1011.8, top: 569, bottom: 1046.8, domain: [1.17, 2.87], ticks: [0, 3, 6, 9], minor: [1.5, 4.5, 7.5, 10.5], labelSize: 12.25 };
  drawBars(svg, c);
  drawXAxis(svg, { x, ticks: [0, 3, 6, 9], bottom: 1046.8, tickSize: 12, xTitleX: 907.9, xTitleY: 1073.2, xTitleSize: 14.4, titleX: 913.2, titleY: 558.6, titleSize: 14.4, title: "KEGG enrichment" });
  drawRampLegend(svg, { id: "kegg", x: 1020.7, y: 771, w: 19.3, h: 95.8, domain: [1.17, 2.876], ticks: [1.5, 2, 2.5], labelX: 1047, tickSize: 12, titleY: 757, titleSize: 14.1 });
};

const drawHallmark = (svg: any) => {
  const x = d3.scaleLinear().domain([0, 25]).range([1316.3, 1526]);
  const c = { terms: hallTerms, counts: hallCounts, pval: hallPval, x, left: 1305.8, right: 1536, top: 543.8, bottom: 1070.9, domain: [0.4, 8.98], ticks: [0, 5, 10, 15, 20, 25], minor: [2.5, 7.5, 12.5, 17.5, 22.5], labelSize: 13.45 };
  drawBars(svg, c);
  drawXAxis(svg, { x, ticks: [0, 5, 10, 15, 20, 25], bottom: 1070.9, tickSize: 13, pad: 3, xTitleX: 1421, xTitleY: 1100, xTitleSize: 15.8, titleX: 1422, titleY: 531, titleSize: 15.9, title: "Hallmark enrichment" });
  drawRampLegend(svg, { id: "hall", x: 1545.8, y: 766.7, w: 21.2, h: 106.2, domain: [0.4, 8.98], ticks: [2.5, 5, 7.5], labelX: 1574.5, tickSize: 13.2, titleY: 750.6, titleSize: 15.6 });
};

export default function App() {
  const ref = useRef<SVGSVGElement | null>(null);

  useEffect(() => {
    const svg = d3.select(ref.current);
    svg.selectAll("*").remove();
    drawVolcano(svg);
    drawHeatmap(svg);
    drawVenn(svg);
    drawGo(svg);
    drawKegg(svg);
    drawHallmark(svg);
    svg.append("g").selectAll("text").data(panelLetters).join("text")
      .attr("x", (_: string, i: number) => panelLetterX[i])
      .attr("y", (_: string, i: number) => panelLetterY[i])
      .attr("font-family", FONT).attr("font-size", 35).attr("font-weight", "bold").attr("fill", "#000")
      .text((d: string) => d);
  }, []);

  return (
    <svg
      ref={ref}
      width={1654}
      height={1109}
      style={{ position: "absolute", left: 0, top: 0, display: "block", background: "#fff", filter: "blur(0.45px)" }}
    />
  );
}
